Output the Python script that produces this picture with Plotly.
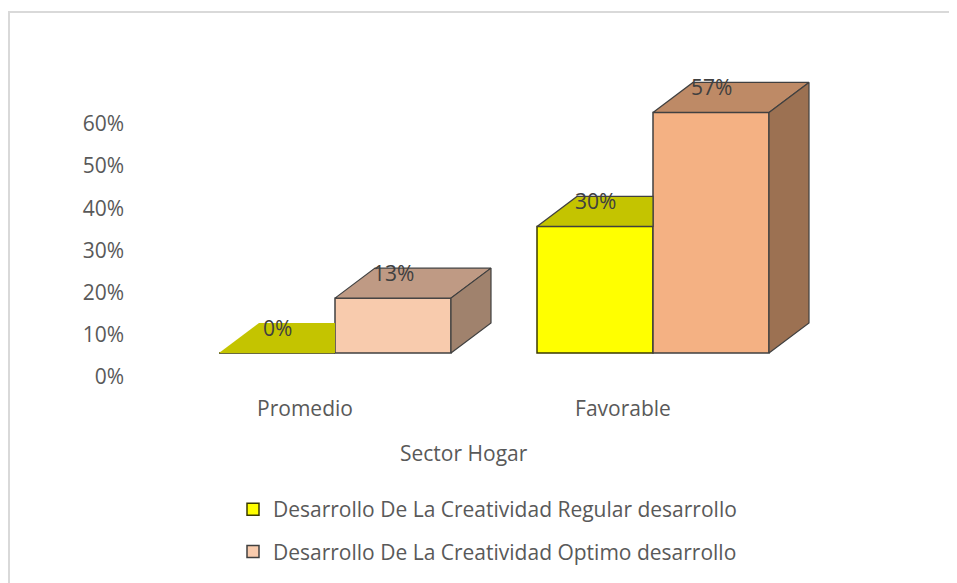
import plotly.graph_objects as go

# ---- data ----
categories = ["Promedio", "Favorable"]
series_names = ["Desarrollo De La Creatividad Regular desarrollo",
                "Desarrollo De La Creatividad Optimo desarrollo"]
regular_values = [0.00, 0.30]
optimo_values = [0.13, 0.57]
y_ticks = [0, 0.1, 0.2, 0.3, 0.4, 0.5, 0.6]
x_title = "Sector Hogar"

# ---- style ----
W, H = 957, 583
OX, OY = 8, 8               # page body margin compensation
FONT = "Open Sans"
FS = 21
BAR_W = 116 / 318
DX, DY = 40 / 318, 30 / 422
front_colors = [["#FFFF00", "#FFFF00"], ["#F8CBAD", "#F4B183"]]
top_colors = [["#C4C400", "#C4C400"], ["#BF9A84", "#BE8A66"]]
side_colors = [["#8A8A00", "#8A8A00"], ["#A0826D", "#9C7152"]]
edge = "#404040"

GX = 335 - OX    # pixel of first category centre
BASE = 353 - OY  # pixel of bar base
TICK0 = 377 - OY  # pixel of 0% tick label

fig = go.Figure()
series = [regular_values, optimo_values]
offsets = [-BAR_W / 2, BAR_W / 2]

for s, vals in enumerate(series):
    xs = [i + offsets[s] for i in range(len(categories))]
    fig.add_trace(go.Bar(
        x=xs, y=vals, width=BAR_W, name=series_names[s],
        marker=dict(color=front_colors[s],
                    line=dict(color=edge if s == 1 else "#3a3a00", width=1.5)),
        legendgroup=f"g{s}", showlegend=True, hoverinfo="skip",
    ))

for i in range(len(categories)):
    for s, vals in enumerate(series):
        v = vals[i]
        cx = i + offsets[s]
        x0, x1 = cx - BAR_W / 2, cx + BAR_W / 2
        nxt = series[s + 1][i] if s + 1 < len(series) else None
        if nxt is not None and nxt > v:
            px = [x0, x1, x1, x0 + DX, x0]
        else:
            px = [x0, x1, x1 + DX, x0 + DX, x0]
        py = [v, v, v + DY, v + DY, v]
        fig.add_trace(go.Scatter(
            x=px, y=py, mode="lines", fill="toself",
            fillcolor=top_colors[s][i],
            line=dict(color=edge if v > 0 else top_colors[s][i], width=1.2 if v > 0 else 0),
            showlegend=False, hoverinfo="skip"))
        if nxt is None and v > 0:
            fig.add_trace(go.Scatter(
                x=[x1, x1, x1 + DX, x1 + DX, x1], y=[0, v, v + DY, DY, 0],
                mode="lines", fill="toself", fillcolor=side_colors[s][i],
                line=dict(color=edge, width=1.2),
                showlegend=False, hoverinfo="skip"))
        fig.add_annotation(x=cx, y=v, text=f"{v:.0%}", showarrow=False,
                           yshift=25, font=dict(family=FONT, size=FS, color="#404040"))

fig.add_trace(go.Scatter(x=[0], y=[0], yaxis="y2", mode="markers",
                         marker=dict(opacity=0), showlegend=False, hoverinfo="skip"))

fig.update_layout(
    width=W, height=H,
    margin=dict(l=0, r=0, t=0, b=0),
    paper_bgcolor="white", plot_bgcolor="rgba(0,0,0,0)",
    barmode="overlay",
    font=dict(family=FONT, size=FS, color="#595959"),
    xaxis=dict(domain=[0, 1], range=[-GX / 318, (W - GX) / 318],
               tickvals=list(range(len(categories))), ticktext=categories,
               showgrid=False, zeroline=False, showline=False, ticks="",
               anchor="free", position=1 - (394 - OY) / H, ticklabelshift=-30,
               tickfont=dict(size=FS, color="#595959")),
    yaxis=dict(domain=[0, 1], range=[(BASE - H) / 422, BASE / 422], visible=False),
    yaxis2=dict(overlaying="y", range=[(TICK0 - H) / 422, TICK0 / 422],
                tickvals=y_ticks, tickformat=".0%", showgrid=False,
                zeroline=False, showline=False, ticks="",
                anchor="free", position=(124 - OX) / W, side="left",
                tickfont=dict(size=FS, color="#595959")),
    legend=dict(x=(233 - OX) / W, y=1 - (489 - OY) / H, xanchor="left", yanchor="top",
                traceorder="grouped", tracegroupgap=12, itemwidth=30,
                font=dict(size=FS, color="#595959"), bgcolor="rgba(0,0,0,0)"),
    showlegend=True,
    shapes=[
        dict(type="line", xref="paper", yref="paper", x0=(8 - OX) / W, x1=1,
             y0=1 - (12 - OY) / H, y1=1 - (12 - OY) / H, line=dict(color="#D9D9D9", width=2)),
        dict(type="line", xref="paper", yref="paper", x0=(9 - OX) / W, x1=(9 - OX) / W,
             y0=0, y1=1 - (12 - OY) / H, line=dict(color="#D9D9D9", width=2)),
    ],
    annotations=list(fig.layout.annotations) + [
        dict(x=(464 - OX) / W, y=1 - (453 - OY) / H, xref="paper", yref="paper",
             text=x_title, showarrow=False, yanchor="middle",
             font=dict(family=FONT, size=FS, color="#595959"))
    ],
)

fig.write_html("out.html")
